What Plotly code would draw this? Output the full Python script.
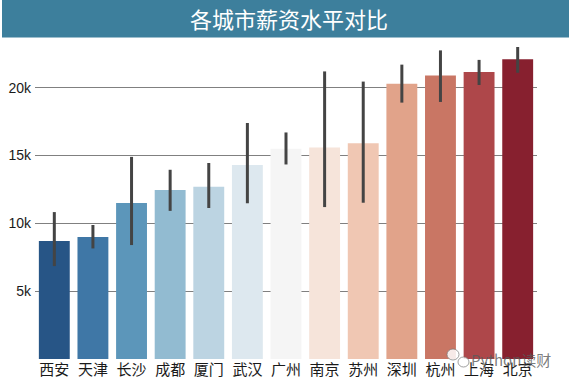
import plotly.graph_objects as go

cities = ["西安","天津","长沙","成都","厦门","武汉","广州","南京","苏州","深圳","杭州","上海","北京"]
salary = [8700,9000,11500,12450,12700,14300,15500,15600,15900,20300,20900,21150,22100]
err_high = [10830,9880,14900,13950,14450,17400,16700,21200,20450,21700,22750,22050,23000]
err_low = [6850,8150,8400,10920,11130,11480,14340,11200,11520,18900,18950,20200,21100]
colors = ["#275586","#3f77a6","#5c96ba","#92bbd1","#bcd4e2","#dde8ef","#f5f5f5","#f6e4da","#f0c7b3","#e1a38a","#c97664","#ae474a","#87202f"]
y_ticks = [5000,10000,15000,20000]
y_labels = ["5k","10k","15k","20k"]
title_text = "各城市薪资水平对比"
watermark = "Python读财"

W, H = 569, 385
L, R, T, B = 35, 32, 47, 26
def px(v):
    return (v - L) / (W - L - R)
def py(v):
    return (H - B - v) / (H - T - B)

fig = go.Figure(go.Bar(
    x=list(range(len(cities))), y=salary, width=0.8,
    marker=dict(color=colors, line=dict(width=0)),
    error_y=dict(type="data", symmetric=False,
                 array=[h - v for h, v in zip(err_high, salary)],
                 arrayminus=[v - l for v, l in zip(salary, err_low)],
                 color="#444444", thickness=3, width=0),
    hoverinfo="skip",
))
logo = [
    dict(type="circle", xref="paper", yref="paper", x0=px(447), x1=px(459), y0=py(360), y1=py(349),
         fillcolor="rgba(255,255,255,0.85)", line=dict(color="rgba(120,120,120,0.7)", width=1)),
    dict(type="circle", xref="paper", yref="paper", x0=px(458), x1=px(469), y0=py(367), y1=py(357),
         fillcolor="rgba(255,255,255,0.85)", line=dict(color="rgba(120,120,120,0.7)", width=1)),
]
fig.update_layout(
    width=W, height=H, paper_bgcolor="white", plot_bgcolor="white",
    margin=dict(l=L, r=R, t=T, b=B, autoexpand=False), showlegend=False,
    font=dict(family="Noto Sans CJK SC, sans-serif", color="#1a1a1a"),
    xaxis=dict(range=[-0.5, 12.5], tickmode="array", tickvals=list(range(len(cities))),
               ticktext=cities, showgrid=False, zeroline=False, ticks="", showline=False,
               automargin=False,
               tickfont=dict(size=15, family="Noto Sans CJK SC", color="#1a1a1a")),
    yaxis=dict(range=[0, 23000], tickmode="array", tickvals=y_ticks, ticktext=y_labels,
               showgrid=True, gridcolor="#808080", gridwidth=1, zeroline=False, ticks="",
               showline=False, layer="below traces", automargin=False, ticklabelstandoff=3,
               tickfont=dict(size=14, family="Liberation Sans", color="#1a1a1a")),
    shapes=[dict(type="rect", xref="paper", yref="paper", x0=px(2), x1=px(569),
                 y0=py(37.5), y1=py(-1), fillcolor="#3d7f9c", line=dict(width=0))] + logo,
    annotations=[
        dict(text=title_text, xref="paper", yref="paper", x=px(289), y=py(18), showarrow=False,
             xanchor="center", yanchor="middle",
             font=dict(size=22, color="white", family="Noto Sans CJK SC")),
        dict(text=watermark, xref="paper", yref="paper", x=px(553), y=py(359), showarrow=False,
             xanchor="right", yanchor="middle",
             font=dict(size=15, color="rgba(90,90,90,0.8)", family="Noto Sans CJK SC")),
    ],
)
fig.write_html("out.html", config=dict(displayModeBar=False),
               post_script="document.body.style.margin='0';document.body.style.overflow='hidden';")
